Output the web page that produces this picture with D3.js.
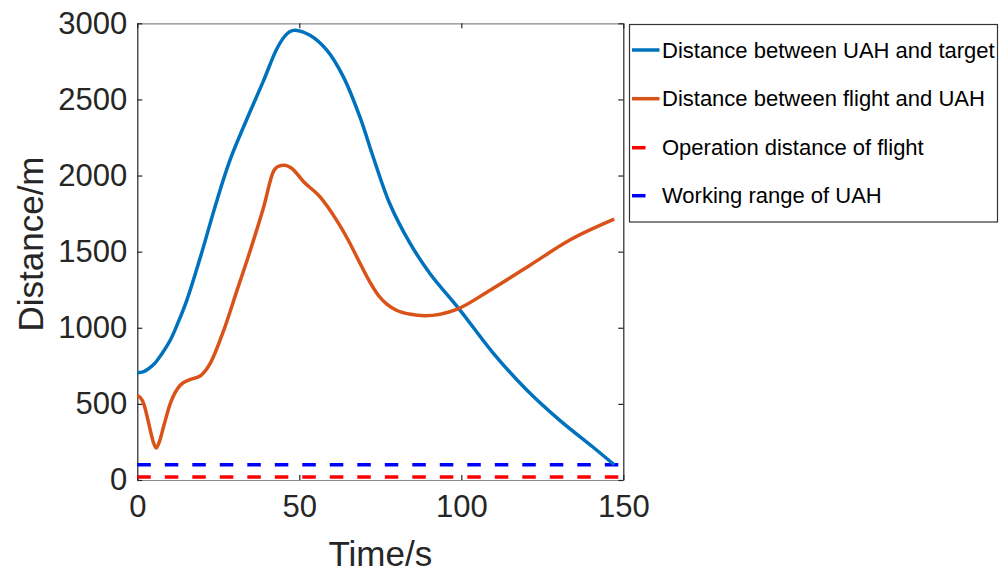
<!DOCTYPE html>
<html>
<head>
<meta charset="utf-8">
<script src="https://cdn.jsdelivr.net/npm/d3@7"></script>
<style>
  body { margin: 0; background: #fff; }
  text { font-family: "Liberation Sans", Arial, sans-serif; }
</style>
</head>
<body>
<svg id="chart" width="1008" height="572"></svg>
<script>
// values
const uahTargetT = [0, 2, 5.1, 7.6, 10.2, 12.7, 15.3, 19.5, 24.6, 28.6, 33.8, 38.9, 43.0, 45.5, 47.0, 48.7, 53.3, 58.5, 63.6, 68.7, 72.8, 77.9, 84.2, 90.3, 99.6, 109.9, 120.2, 130.5, 140.7, 147.2];
const uahTargetV = [705, 712, 760, 830, 920, 1040, 1182, 1466, 1838, 2101, 2370, 2620, 2830, 2915, 2945, 2955, 2921, 2823, 2648, 2385, 2122, 1816, 1554, 1357, 1116, 832, 591, 390, 215, 100];

const flightUahT = [0, 1, 2, 3, 4, 5, 5.8, 6.8, 8.1, 10.2, 13.3, 16.4, 19.4, 22.5, 26.7, 30.8, 34.9, 39.0, 42.1, 43.5, 45.4, 47.5, 51.4, 56.4, 61.5, 65.0, 68.7, 71.8, 74.5, 77.0, 80.0, 84.0, 88.8, 98.6, 108.9, 121.2, 133.5, 147.2];
const flightUahV = [555, 540, 500, 420, 328, 245, 210, 250, 350, 503, 624, 661, 683, 766, 985, 1247, 1510, 1794, 2030, 2060, 2068, 2050, 1958, 1860, 1707, 1580, 1425, 1300, 1210, 1155, 1115, 1090, 1079, 1121, 1247, 1411, 1576, 1713];

const flightOperation = 20;   // m
const uahRange = 100;         // m
const rangeT = [0, 150];

const legendLabels = [
  'Distance between UAH and target',
  'Distance between flight and UAH',
  'Operation distance of flight',
  'Working range of UAH'
];
const xTicks = [0, 50, 100, 150];
const yTicks = [0, 500, 1000, 1500, 2000, 2500, 3000];

const svg = d3.select('#chart');
const box = { left: 137.3, right: 623.3, top: 23.3, bottom: 480 };

const x = d3.scaleLinear().domain([0, 150]).range([box.left, box.right]);
const y = d3.scaleLinear().domain([0, 3000]).range([box.bottom, box.top]);

const dark = '#262626';
const boxGray = '#8a8a8a';
const fmt = d3.format('d');

function styleAxis(g, domainColor) {
  g.select('.domain').attr('stroke', domainColor).attr('stroke-width', 1.2);
  g.selectAll('.tick line').attr('stroke', dark).attr('stroke-width', 1.2);
  g.selectAll('.tick text')
    .attr('fill', dark)
    .attr('font-size', 31)
    .attr('font-family', '"Liberation Sans", Arial, sans-serif');
}

// axes (ticks pointing inward)
svg.append('g')
  .attr('transform', `translate(0,${box.bottom})`)
  .call(d3.axisBottom(x).tickValues(xTicks).tickFormat(fmt).tickSize(-5).tickSizeOuter(0).tickPadding(15))
  .call(g => styleAxis(g, boxGray));

svg.append('g')
  .attr('transform', `translate(0,${box.top})`)
  .call(d3.axisTop(x).tickValues(xTicks).tickSize(-5).tickSizeOuter(0).tickFormat(''))
  .call(g => styleAxis(g, boxGray));

svg.append('g')
  .attr('transform', `translate(${box.left},0)`)
  .call(d3.axisLeft(y).tickValues(yTicks).tickFormat(fmt).tickSize(-5).tickSizeOuter(0).tickPadding(10))
  .call(g => styleAxis(g, dark));

svg.append('g')
  .attr('transform', `translate(${box.right},0)`)
  .call(d3.axisRight(y).tickValues(yTicks).tickSize(-5).tickSizeOuter(0).tickFormat(''))
  .call(g => styleAxis(g, dark));

// axis titles
svg.append('text')
  .attr('x', (box.left + box.right) / 2)
  .attr('y', 566)
  .attr('text-anchor', 'middle')
  .attr('font-size', 35)
  .attr('fill', dark)
  .text('Time/s');

svg.append('text')
  .attr('transform', 'translate(43,244) rotate(-90)')
  .attr('text-anchor', 'middle')
  .attr('font-size', 35)
  .attr('fill', dark)
  .text('Distance/m');

// curves
const smooth = d3.line()
  .x(d => x(d[0]))
  .y(d => y(d[1]))
  .curve(d3.curveCatmullRom.alpha(0.5));
const mono = d3.line()
  .x(d => x(d[0]))
  .y(d => y(d[1]))
  .curve(d3.curveMonotoneX);

const series = [
  { t: uahTargetT, v: uahTargetV, color: '#0072BD', dash: null, gen: smooth },
  { t: flightUahT, v: flightUahV, color: '#D95319', dash: null, gen: mono },
  { t: rangeT, v: [flightOperation, flightOperation], color: '#FF0000', dash: '13.5,14', gen: mono },
  { t: rangeT, v: [uahRange, uahRange], color: '#0000FF', dash: '13.5,14', gen: mono }
];

const plot = svg.append('g');
// dashed limits first, curves on top
[series[2], series[3], series[0], series[1]].forEach(s => {
  plot.append('path')
    .datum(s.t.map((t, i) => [t, s.v[i]]))
    .attr('d', s.gen)
    .attr('fill', 'none')
    .attr('stroke', s.color)
    .attr('stroke-width', 3.5)
    .attr('stroke-linejoin', 'round')
    .attr('stroke-dasharray', s.dash);
});

// legend
const legend = svg.append('g');
legend.append('rect')
  .attr('x', 629.5)
  .attr('y', 24.5)
  .attr('width', 368)
  .attr('height', 197.5)
  .attr('fill', '#fff')
  .attr('stroke', '#333')
  .attr('stroke-width', 1.2);

const rowY = [50, 98.7, 147.7, 195.7];
series.forEach((s, i) => {
  legend.append('line')
    .attr('x1', 632).attr('x2', 659.5)
    .attr('y1', rowY[i]).attr('y2', rowY[i])
    .attr('stroke', s.color)
    .attr('stroke-width', 3.5)
    .attr('stroke-dasharray', s.dash);
  legend.append('text')
    .attr('x', 662)
    .attr('y', rowY[i])
    .attr('dy', '0.35em')
    .attr('font-size', 22)
    .attr('fill', '#000')
    .text(legendLabels[i]);
});
</script>
</body>
</html>
